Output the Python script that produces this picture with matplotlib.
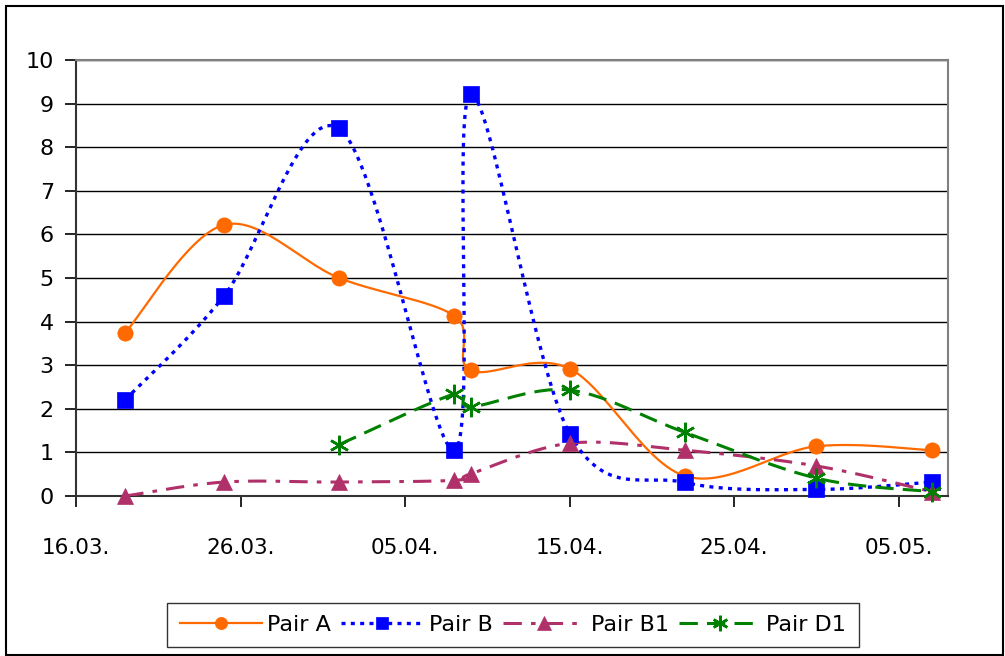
import datetime as dt
import numpy as np
import matplotlib
matplotlib.use("Agg")
import matplotlib.pyplot as plt
import matplotlib.dates as mdates
from matplotlib.lines import Line2D
from matplotlib.patches import Rectangle

# ---------------- data ----------------
YEAR = 2008
dates_all = ["19.03", "25.03", "01.04", "08.04", "09.04", "15.04", "22.04", "30.04", "07.05"]
dates_d1 = ["01.04", "08.04", "09.04", "15.04", "22.04", "30.04", "07.05"]

pair_a = [3.75, 6.22, 5.00, 4.13, 2.88, 2.92, 0.46, 1.14, 1.05]
pair_b = [2.21, 4.59, 8.43, 1.05, 9.22, 1.43, 0.31, 0.15, 0.32]
pair_b1 = [0.00, 0.32, 0.32, 0.36, 0.51, 1.21, 1.05, 0.69, 0.10]
pair_d1 = [1.18, 2.34, 2.05, 2.43, 1.46, 0.41, 0.10]

tick_dates = ["16.03", "26.03", "05.04", "15.04", "25.04", "05.05"]
x_start, x_end = "16.03", "08.05"


def to_date(s):
    d, m = s.split(".")
    return dt.date(YEAR, int(m), int(d))


def smooth(xs, ys, n=30):
    """Bezier smoothing through the points (Catmull-Rom style control points)."""
    x = np.asarray(xs, float); y = np.asarray(ys, float)
    px, py = [x[0]], [y[0]]
    for i in range(len(x) - 1):
        i0 = max(i - 1, 0); i3 = min(i + 2, len(x) - 1)
        c1x = x[i] + (x[i + 1] - x[i0]) / 6.0
        c1y = y[i] + (y[i + 1] - y[i0]) / 6.0
        c2x = x[i + 1] - (x[i3] - x[i]) / 6.0
        c2y = y[i + 1] - (y[i3] - y[i]) / 6.0
        t = np.linspace(0, 1, n)[1:]
        b0 = (1 - t) ** 3; b1 = 3 * (1 - t) ** 2 * t; b2 = 3 * (1 - t) * t ** 2; b3 = t ** 3
        px.extend(b0 * x[i] + b1 * c1x + b2 * c2x + b3 * x[i + 1])
        py.extend(b0 * y[i] + b1 * c1y + b2 * c2y + b3 * y[i + 1])
    return np.array(px), np.array(py)


fig = plt.figure(figsize=(10.05, 6.56), dpi=100)
ax = fig.add_axes([76 / 1005, 1 - 496 / 656, (948 - 76) / 1005, (496 - 60) / 656])

styles = [
    ("Pair A", dates_all, pair_a, "#FF6A00", "-", "o", 11, 1.6),
    ("Pair B", dates_all, pair_b, "#0000FF", (0, (1.2, 1.6)), "s", 11, 2.4),
    ("Pair B1", dates_all, pair_b1, "#B0306A", (0, (6, 3, 1.5, 3)), "^", 12, 2.2),
    ("Pair D1", dates_d1, pair_d1, "#008000", (0, (6, 3)), (6, 2, 0), 14, 2.2),
]

handles = []
for name, ds, vals, col, ls, mk, ms, lw in styles:
    xd = mdates.date2num([to_date(s) for s in ds])
    sx, sy = smooth(xd, vals)
    ax.plot(sx, sy, color=col, ls=ls, lw=lw, zorder=3)
    mew = 1.8 if mk == (6, 2, 0) else 0.5
    ax.plot(xd, vals, ls="none", marker=mk, ms=ms, color=col, mec=col, mew=mew,
            zorder=4, clip_on=False)
    handles.append(Line2D([], [], color=col, ls=ls, lw=lw, marker=mk, ms=ms * 0.8,
                          mec=col, mew=mew, label=name))

ax.set_xlim(mdates.date2num(to_date(x_start)), mdates.date2num(to_date(x_end)))
ax.set_ylim(0, 10)
ax.set_yticks(range(0, 11))
ax.set_xticks(mdates.date2num([to_date(s) for s in tick_dates]))
ax.set_xticklabels([s + "." for s in tick_dates])

ax.grid(axis="y", color="black", lw=1.0, zorder=1)
ax.set_axisbelow(True)
for side in ("top", "right"):
    ax.spines[side].set_color("#808080")
    ax.spines[side].set_linewidth(1.5)
for side in ("left", "bottom"):
    ax.spines[side].set_color("#333333")
    ax.spines[side].set_linewidth(1.5)
ax.tick_params(axis="y", direction="out", length=8, width=1.2, pad=8, labelsize=16)
ax.tick_params(axis="x", direction="out", length=8, width=1.2, pad=22, labelsize=15.5)

fig.legend(handles=handles, loc="center", bbox_to_anchor=(513 / 1005, 1 - 625 / 656),
           ncol=4, frameon=True, fancybox=False, edgecolor="black", fontsize=16,
           handlelength=3.7, handletextpad=0.25, columnspacing=0.45, borderpad=0.55)

fig.patches.append(Rectangle((6 / 1005, 1 / 656), 997 / 1005, 649 / 656, transform=fig.transFigure,
                             fill=False, edgecolor="black", lw=1.5))

fig.savefig("out.png", dpi=100)
